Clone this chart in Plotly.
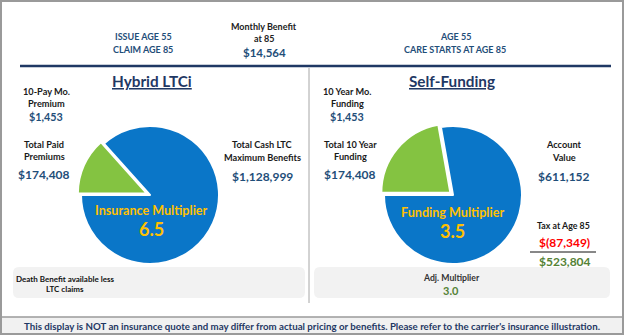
import plotly.graph_objects as go

W, H = 624, 335

# ---- data ----
slice_labels = ["Paid / Funded", "Benefit / Value"]
hybrid_values = [174408, 1128999]
self_values = [174408, 611152]
slice_colors = ["#84C341", "#0A76C8"]

header_left = ["ISSUE AGE 55", "CLAIM AGE 85"]
header_mid = ["Monthly Benefit", "at 85", "$14,564"]
header_right = ["AGE 55", "CARE STARTS AT AGE 85"]
titles = ["Hybrid LTCi", "Self-Funding"]
hybrid_labels = [("10-Pay Mo.", "Premium", "$1,453"),
                 ("Total Paid", "Premiums", "$174,408"),
                 ("Total Cash LTC", "Maximum Benefits", "$1,128,999")]
self_labels = [("10 Year Mo.", "Funding", "$1,453"),
               ("Total 10 Year", "Funding", "$174,408"),
               ("Account", "Value", "$611,152")]
multipliers = [("Insurance Multiplier", "6.5"), ("Funding Multiplier", "3.5")]
tax_label, tax_value, net_value = "Tax at Age 85", "$(87,349)", "$523,804"
adj_label, adj_value = "Adj. Multiplier", "3.0"
death_note = ["Death Benefit available less", "LTC claims"]
footer = ("This display is NOT an insurance quote and may differ from actual pricing "
          "or benefits. Please refer to the carrier's insurance illustration.")

NAVY = "#1F4E79"
DARK = "#1F3864"
GOLD = "#FFC000"
FONT = "Lato"


def px(x):
    return x / W


def py(y):
    return 1 - y / H


def pie_domain(cx, cy, r, pull):
    half = r * (1 + pull)
    return dict(x=[px(cx - half), px(cx + half)], y=[py(cy + half), py(cy - half)])


fig = go.Figure()
pull = 0.05
for vals, (cx, cy) in [(hybrid_values, (150, 195)), (self_values, (453, 195))]:
    fig.add_trace(go.Pie(
        labels=slice_labels, values=vals, sort=False, direction="clockwise",
        rotation=270, pull=[pull, 0], textinfo="none", hoverinfo="label+value",
        marker=dict(colors=slice_colors, line=dict(color="white", width=2)),
        domain=pie_domain(cx, cy, 69, pull), showlegend=False))

ann = []


def T(x, y, text, size, color=NAVY, bold=True):
    ann.append(dict(x=px(x), y=py(y), xref="paper", yref="paper", showarrow=False,
                    text=(f"<b>{text}</b>" if bold else text), xanchor="center",
                    yanchor="middle", font=dict(family=FONT, size=size, color=color)))


# header
T(143, 36, header_left[0], 9)
T(143, 49, header_left[1], 9)
T(264, 26, header_mid[0], 9, "#222222")
T(264, 38, header_mid[1], 9, "#222222")
T(264, 52, header_mid[2], 11.5)
T(455, 36, header_right[0], 9)
T(455, 49, header_right[1], 9)

# titles
T(152, 81, f"<u>{titles[0]}</u>", 15.3, DARK)
T(452, 81, f"<u>{titles[1]}</u>", 15.3, DARK)

# side labels
for labels, pos in [(hybrid_labels, [(46, 91), (44, 144), (262, 145)]),
                    (self_labels, [(347, 91), (350, 144), (564, 145)])]:
    for (l1, l2, v), (x, y) in zip(labels, pos):
        T(x, y, l1, 9.2, "#1A1A1A")
        T(x, y + 12.5, l2, 9.2, "#1A1A1A")
        if v == "$1,453":
            T(x, y + 26, v, 10.8)
        else:
            T(x, y + 31, v, 12)

# multipliers
T(151, 211, multipliers[0][0], 12.6, GOLD)
T(151, 229, multipliers[0][1], 18, GOLD)
T(452, 212, multipliers[1][0], 12.6, GOLD)
T(452, 231, multipliers[1][1], 18, GOLD)

# tax block
T(563, 225, tax_label, 8.8, "#1A1A1A")
T(564, 242, tax_value, 12, "#FF0000")
T(565, 261, net_value, 12, "#548235")

# boxes text
T(65, 279, death_note[0], 8, "#111111")
T(65, 289, death_note[1], 8, "#111111")
T(451, 277, adj_label, 8.7, "#333333")
T(451, 290, adj_value, 11, "#548235")

# footer
T(312, 326, footer, 9.7, DARK)

shapes = [
    # footer bar
    dict(type="rect", x0=px(1), x1=px(623), y0=py(335), y1=py(317),
         line=dict(width=0), fillcolor="#F1F1F1", layer="below"),
    dict(type="line", x0=px(0), x1=px(624), y0=py(317), y1=py(317),
         line=dict(color="#9A9A9A", width=1.5)),
    # outer frame
    dict(type="rect", x0=px(1), x1=px(623), y0=py(334), y1=py(1),
         line=dict(color="#9A9A9A", width=2), fillcolor="rgba(0,0,0,0)", layer="above"),
    # header divider
    dict(type="line", x0=px(20), x1=px(611), y0=py(66), y1=py(66),
         line=dict(color="#1F3864", width=2.5)),
    # vertical divider
    dict(type="line", x0=px(309), x1=px(309), y0=py(68), y1=py(303),
         line=dict(color="#A6A6A6", width=1)),
    # tax line
    dict(type="line", x0=px(530), x1=px(596), y0=py(252), y1=py(252),
         line=dict(color="#111111", width=1)),
]


def rounded(x0, y0, x1, y1, r):
    X = lambda v: px(v)
    Y = lambda v: py(v)
    path = (f"M {X(x0 + r)},{Y(y0)} L {X(x1 - r)},{Y(y0)} "
            f"Q {X(x1)},{Y(y0)} {X(x1)},{Y(y0 + r)} L {X(x1)},{Y(y1 - r)} "
            f"Q {X(x1)},{Y(y1)} {X(x1 - r)},{Y(y1)} L {X(x0 + r)},{Y(y1)} "
            f"Q {X(x0)},{Y(y1)} {X(x0)},{Y(y1 - r)} L {X(x0)},{Y(y0 + r)} "
            f"Q {X(x0)},{Y(y0)} {X(x0 + r)},{Y(y0)} Z")
    return dict(type="path", path=path, fillcolor="#F2F2F2", line=dict(width=0),
                layer="below")


shapes.append(rounded(13, 267, 305, 298, 6))
shapes.append(rounded(314, 267, 610, 298, 6))
for s in shapes:
    s.setdefault("xref", "paper")
    s.setdefault("yref", "paper")

fig.update_layout(width=W, height=H, margin=dict(l=0, r=0, t=0, b=0),
                  paper_bgcolor="white", plot_bgcolor="white",
                  annotations=ann, shapes=shapes, font=dict(family=FONT))
fig.write_html("out.html")
